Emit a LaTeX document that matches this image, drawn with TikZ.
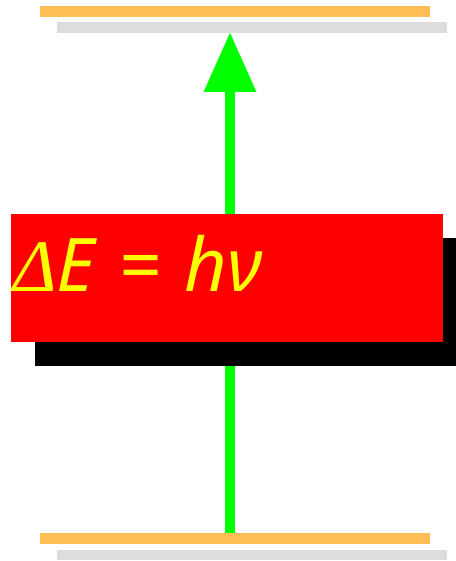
\documentclass[tikz,border=0pt]{standalone}
\usepackage{fontspec}
\setmainfont{Noto Sans}
\newfontfamily\deltafont{Liberation Serif}
\usetikzlibrary{arrows.meta}
\definecolor{levelorange}{RGB}{255,190,85}
\definecolor{levelgray}{RGB}{221,221,221}
\definecolor{photongreen}{RGB}{0,255,0}
\definecolor{boxred}{RGB}{255,0,0}
\definecolor{textyellow}{RGB}{255,255,0}
\begin{document}
\begin{tikzpicture}[x=1pt,y=-1pt,
  level/.style={rectangle, inner sep=0pt, minimum width=390pt, minimum height=10.5pt, fill=#1},
  box/.style={rectangle, inner sep=0pt, minimum width=432pt, minimum height=128pt, fill=#1},
  photon/.style={draw=photongreen, line width=10pt, -{Triangle[width=50pt,length=60pt]}}
]
\useasboundingbox (0,0) rectangle (455,561);
\node[level=levelorange] (topo) at (235,11.5) {};
\node[level=levelgray] (topg) at (251.5,27.5) {};
\node[level=levelorange] (boto) at (235,538.5) {};
\node[level=levelgray] (botg) at (251.5,555) {};
\coordinate (tip) at (230,32);
\draw[photon] (boto.north -| tip) -- (tip);
\node[box=black] (shadow) at (251,302) {};
\node[box=boxred] (eqbox) at (227,278) {};
\node[anchor=base west, inner sep=0pt, text=textyellow, font=\fontsize{74}{74}\selectfont\itshape] (eq) at (13,291.5) {{\deltafont Δ}E\hspace{24pt}=\hspace{24pt}hν};
\end{tikzpicture}
\end{document}
